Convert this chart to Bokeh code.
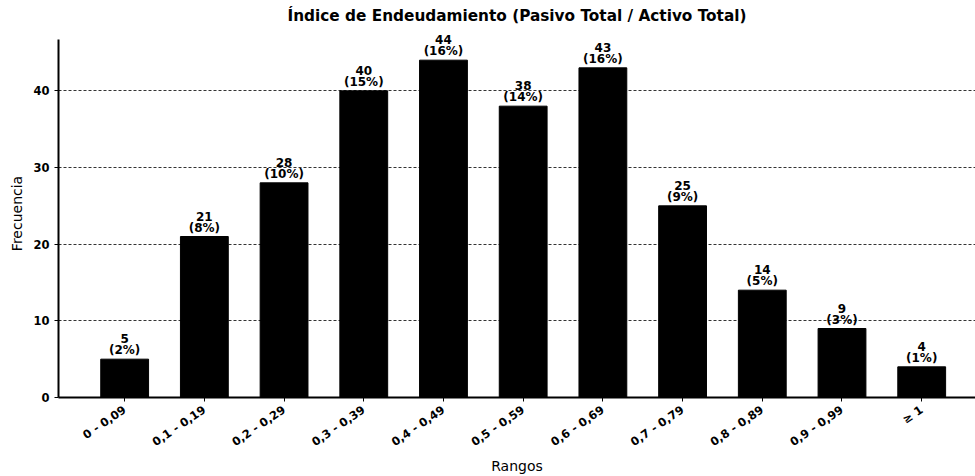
from bokeh.plotting import figure
from bokeh.models import Range1d, FixedTicker, ColumnDataSource
from bokeh.embed import file_html
from bokeh.resources import INLINE
from bokeh.core.properties import value

categories = ["0 - 0,09", "0,1 - 0,19", "0,2 - 0,29", "0,3 - 0,39", "0,4 - 0,49",
              "0,5 - 0,59", "0,6 - 0,69", "0,7 - 0,79", "0,8 - 0,89", "0,9 - 0,99", "≥ 1"]
counts = [5, 21, 28, 40, 44, 38, 43, 25, 14, 9, 4]
percents = [2, 8, 10, 15, 16, 14, 16, 9, 5, 3, 1]
y_ticks = [0, 10, 20, 30, 40]

xs = list(range(len(categories)))
src = ColumnDataSource(dict(
    x=xs, top=counts,
    lab1=[str(c) for c in counts],
    lab2=["(%d%%)" % p for p in percents],
))

FONT = "DejaVu Sans"

p = figure(width=975, height=476, output_backend="svg", toolbar_location=None,
           x_range=Range1d(-0.83, 10.675), y_range=Range1d(0, 48.0),
           min_border_left=58, min_border_right=0, min_border_top=0, min_border_bottom=77)
p.outline_line_color = None
p.title.text = "Índice de Endeudamiento (Pasivo Total / Activo Total)"
p.title.text_font = FONT
p.title.text_font_size = "15.3px"
p.title.text_font_style = "bold"
p.title.text_color = "black"
p.title.align = "center"
p.title.offset = 0
p.title.standoff = 9

p.vbar(x="x", top="top", width=0.6, bottom=0, source=src, fill_color="black", line_color="black")
p.text(x="x", y="top", text="lab2", source=src, text_align="center", text_baseline="bottom",
       y_offset=-2, text_font=value(FONT), text_font_size="12px", text_font_style="bold",
       text_color="black")
p.text(x="x", y="top", text="lab1", source=src, text_align="center", text_baseline="bottom",
       y_offset=-16, text_font=value(FONT), text_font_size="12px", text_font_style="bold",
       text_color="black")

p.xgrid.grid_line_color = None
p.ygrid.grid_line_color = "#333333"
p.ygrid.grid_line_dash = "3 2"
p.ygrid.grid_line_width = 1
p.ygrid.level = "underlay"

p.xaxis.ticker = FixedTicker(ticks=xs)
p.xaxis.major_label_overrides = {i: c for i, c in enumerate(categories)}
p.xaxis.major_label_orientation = 0.6
p.yaxis.ticker = FixedTicker(ticks=y_ticks)
p.yaxis.bounds = (0, 46.7)

for ax in (p.xaxis[0], p.yaxis[0]):
    ax.axis_line_color = "black"
    ax.axis_line_width = 2
    ax.major_tick_line_color = "black"
    ax.major_tick_out = 4
    ax.major_tick_in = 0
    ax.minor_tick_line_color = None
    ax.major_label_text_font = FONT
    ax.major_label_text_font_size = "11.5px"
    ax.major_label_text_font_style = "bold"
    ax.major_label_text_color = "black"
    ax.axis_label_text_font = FONT
    ax.axis_label_text_font_size = "14px"
    ax.axis_label_text_font_style = "normal"
    ax.axis_label_text_color = "black"

p.xaxis.major_label_standoff = 7
p.yaxis.major_label_standoff = 5
p.xaxis.axis_label = "Rangos"
p.yaxis.axis_label = "Frecuencia"
p.xaxis.axis_label_standoff = 0
p.yaxis.axis_label_standoff = 5

open("out.html", "w").write(file_html(p, INLINE))
